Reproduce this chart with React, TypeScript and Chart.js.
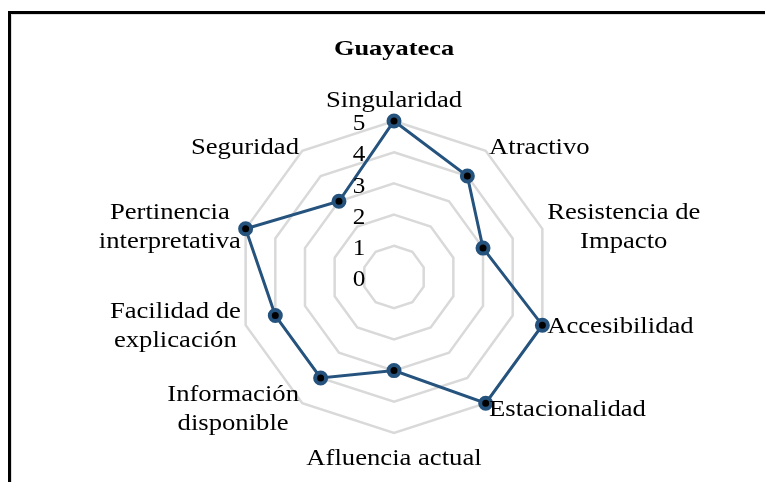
import React, { useEffect, useRef } from "react";
import { Chart, registerables } from "chart.js";

Chart.register(...registerables);

const TITLE = "Guayateca";
const CATEGORIES: string[][] = [
  ["Singularidad"],
  ["Atractivo"],
  ["Resistencia de", "Impacto"],
  ["Accesibilidad"],
  ["Estacionalidad"],
  ["Afluencia actual"],
  ["Información", "disponible"],
  ["Facilidad de", "explicación"],
  ["Pertinencia", "interpretativa"],
  ["Seguridad"],
];
const VALUES = [5, 4, 3, 5, 5, 3, 4, 4, 5, 3];
const TICK_VALUES = [0, 1, 2, 3, 4, 5];

const LINE_COLOR = "#25537d";
const FONT = "Liberation Serif, 'Times New Roman', serif";
const SX = 1.11;

function drawText(ctx: CanvasRenderingContext2D, t: string, x: number, y: number, sx: number) {
  ctx.save();
  ctx.translate(x, y);
  ctx.scale(sx, 1);
  ctx.fillText(t, 0, 0);
  ctx.restore();
}

const labelsPlugin = {
  id: "excelLabels",
  afterDraw(chart: any) {
    const ctx = chart.ctx as CanvasRenderingContext2D;
    const scale = chart.scales.r;
    const cx = scale.xCenter;
    const cy = scale.yCenter;
    ctx.save();
    // frame
    ctx.strokeStyle = "#dddddd";
    ctx.lineWidth = 1;
    ctx.strokeRect(11.5, 14.5, 2000, 2000);
    ctx.strokeStyle = "#000000";
    ctx.lineWidth = 3;
    ctx.strokeRect(9.5, 12.5, 2000, 2000);

    // title
    ctx.fillStyle = "#000";
    ctx.font = `bold 22px ${FONT}`;
    ctx.textAlign = "center";
    ctx.textBaseline = "middle";
    drawText(ctx, TITLE, cx, 49, 1.2);

    // tick labels
    ctx.font = `24px ${FONT}`;
    for (const v of TICK_VALUES) {
      const d = scale.getDistanceFromCenterForValue(v);
      drawText(ctx, String(v), cx - 35, cy - d + 3, 1.05);
    }

    // point labels
    const n = CATEGORIES.length;
    const lh = 29;
    for (let i = 0; i < n; i++) {
      const lines = CATEGORIES[i];
      const p = scale.getPointPosition(i, scale.drawingArea + 4);
      let align: "left" | "right" | "center" = "center";
      if (i > 0 && i < n / 2) align = "left";
      else if (i > n / 2) align = "right";
      let blockCenterY = p.y;
      if (i === 0) blockCenterY = p.y - 16;
      else if (i === n / 2) blockCenterY = p.y + 22;
      else if (i === 4 || i === 6) blockCenterY = p.y + 3;
      let maxW = 0;
      for (const l of lines) maxW = Math.max(maxW, ctx.measureText(l).width * SX);
      let bx: number;
      if (align === "left") bx = p.x + 1 + maxW / 2;
      else if (align === "right") bx = p.x - 1 - maxW / 2;
      else bx = p.x;
      const top = blockCenterY - ((lines.length - 1) * lh) / 2;
      ctx.textAlign = "center";
      lines.forEach((l, k) => drawText(ctx, l, bx, top + k * lh, SX));
    }
    ctx.restore();
  },
};

export default function App() {
  const ref = useRef<HTMLCanvasElement | null>(null);
  useEffect(() => {
    if (!ref.current) return;
    const chart = new Chart(ref.current, {
      type: "radar",
      data: {
        labels: CATEGORIES.map((c) => c.join(" ")),
        datasets: [
          {
            label: TITLE,
            data: VALUES,
            borderColor: LINE_COLOR,
            borderWidth: 3,
            backgroundColor: "rgba(0,0,0,0)",
            fill: false,
            pointRadius: 5.5,
            pointBorderWidth: 4,
            pointBorderColor: LINE_COLOR,
            pointBackgroundColor: "#000000",
            tension: 0,
          },
        ],
      },
      options: {
        responsive: false,
        animation: false,
        events: [],
        layout: { padding: { left: 238, right: 215, top: 121, bottom: 49 } },
        plugins: {
          legend: { display: false },
          tooltip: { enabled: false },
          title: { display: false },
        },
        scales: {
          r: {
            min: 0,
            max: 5,
            ticks: { display: false, stepSize: 1 },
            pointLabels: { display: false },
            angleLines: { display: false },
            grid: { color: "#d9d9d9", lineWidth: 2.5, circular: false },
          },
        },
      },
      plugins: [labelsPlugin],
    });
    return () => chart.destroy();
  }, []);
  return (
    <div style={{ position: "absolute", left: 0, top: 0, width: 765, height: 482, background: "#fff" }}>
      <canvas ref={ref} width={765} height={482} style={{ width: 765, height: 482, display: "block" }} />
    </div>
  );
}
